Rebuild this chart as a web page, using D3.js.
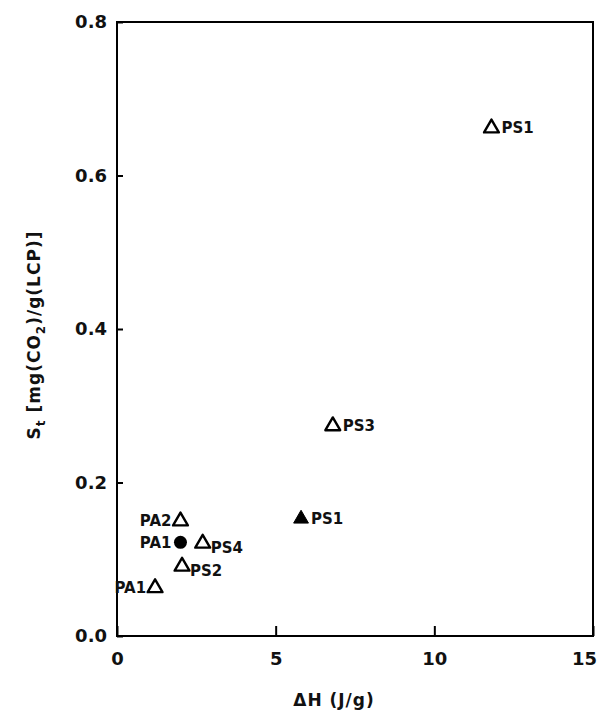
<!DOCTYPE html>
<html>
  <head>
    <meta charset="utf-8">
    <script src="https://cdn.jsdelivr.net/npm/d3@7"></script>
    <style type="text/css">
      body { margin: 0; background: #fff; }
      .axis path, .axis line { fill: none; stroke: black; stroke-width: 2; }
      .axis text { font-family: "DejaVu Sans", sans-serif; font-size: 18px; font-weight: bold; fill: #111; }
      .lbl { font-family: "DejaVu Sans", sans-serif; font-size: 15px; font-weight: bold; fill: #111; }
      .title { font-family: "DejaVu Sans", sans-serif; font-size: 17px; font-weight: bold; fill: #111; letter-spacing: 1px; }
    </style>
  </head>
  <body>
    <div class="plot_canvas"></div>
    <script>
      // samples: dH (J/g) vs S_t
      var names   = ["PS1", "PS3", "PS1", "PA2", "PA1", "PS4", "PS2", "PA1"];
      var dH      = [11.8, 6.8, 5.8, 2.0, 2.0, 2.7, 2.05, 1.2];
      var St      = [0.663, 0.275, 0.154, 0.151, 0.122, 0.122, 0.092, 0.064];
      var shapes  = ["open", "open", "filled", "open", "circle", "open", "open", "open"];
      var labelSide = ["right", "right", "right", "left", "left", "rightlow", "rightlow", "left"];

      var xTicks = [0, 5, 10, 15];
      var yTicks = [0.0, 0.2, 0.4, 0.6, 0.8];

      var width = 600, height = 714;
      var margin = {top: 22, right: 7, bottom: 78, left: 117};

      var svg = d3.select(".plot_canvas").append("svg")
        .attr("width", width)
        .attr("height", height);

      var xScale = d3.scaleLinear().domain([0, 15]).range([margin.left, width - margin.right]);
      var yScale = d3.scaleLinear().domain([0, 0.8]).range([height - margin.bottom, margin.top]);

      // frame
      svg.append("rect")
        .attr("x", xScale(0)).attr("y", yScale(0.8))
        .attr("width", xScale(15) - xScale(0))
        .attr("height", yScale(0) - yScale(0.8))
        .attr("fill", "none").attr("stroke", "black").attr("stroke-width", 2);

      var xAxis = d3.axisBottom(xScale).tickValues(xTicks).tickFormat(d3.format("d"))
        .tickSizeInner(-10).tickSizeOuter(0).tickPadding(16);
      var yAxis = d3.axisLeft(yScale).tickValues(yTicks).tickFormat(d3.format(".1f"))
        .tickSizeInner(-6).tickSizeOuter(0).tickPadding(10);

      var gx = svg.append("g").attr("class", "axis")
        .attr("transform", "translate(0," + yScale(0) + ")")
        .call(xAxis);
      gx.select(".domain").remove();
      // keep the last label inside the page
      gx.selectAll(".tick text").filter(function(d) { return d === 15; }).attr("dx", -9);

      var gy = svg.append("g").attr("class", "axis")
        .attr("transform", "translate(" + xScale(0) + ",0)")
        .call(yAxis);
      gy.select(".domain").remove();

      // axis titles
      svg.append("text").attr("class", "title")
        .attr("x", 334).attr("y", 706)
        .attr("text-anchor", "middle")
        .text("\u0394H  (J/g)");

      var yt = svg.append("text").attr("class", "title")
        .attr("transform", "translate(40," + 335 + ") rotate(-90)")
        .attr("text-anchor", "middle");
      yt.append("tspan").text("S");
      yt.append("tspan").attr("dy", 5).attr("font-size", 12).text("t");
      yt.append("tspan").attr("dy", -5).text("  [mg(CO");
      yt.append("tspan").attr("dy", 5).attr("font-size", 12).text("2");
      yt.append("tspan").attr("dy", -5).text(")/g(LCP)]");

      var tri = d3.symbol().type(d3.symbolTriangle).size(95);

      var pts = svg.append("g");
      names.forEach(function(n, i) {
        var cx = xScale(dH[i]), cy = yScale(St[i]);
        if (shapes[i] === "circle") {
          pts.append("circle").attr("cx", cx).attr("cy", cy).attr("r", 6.5).attr("fill", "black");
        } else {
          pts.append("path")
            .attr("d", tri)
            .attr("transform", "translate(" + cx + "," + (cy + 1) + ")")
            .attr("fill", shapes[i] === "filled" ? "black" : "white")
            .attr("stroke", "black")
            .attr("stroke-width", shapes[i] === "filled" ? 1 : 2.4)
            .attr("stroke-linejoin", "round");
        }
        var t = pts.append("text").attr("class", "lbl").text(n);
        if (labelSide[i] === "left") {
          t.attr("x", cx - 9).attr("y", cy + 6).attr("text-anchor", "end");
        } else if (labelSide[i] === "rightlow") {
          t.attr("x", cx + 8).attr("y", cy + 11).attr("text-anchor", "start");
        } else {
          t.attr("x", cx + 10).attr("y", cy + 6).attr("text-anchor", "start");
        }
      });
    </script>
  </body>
</html>
